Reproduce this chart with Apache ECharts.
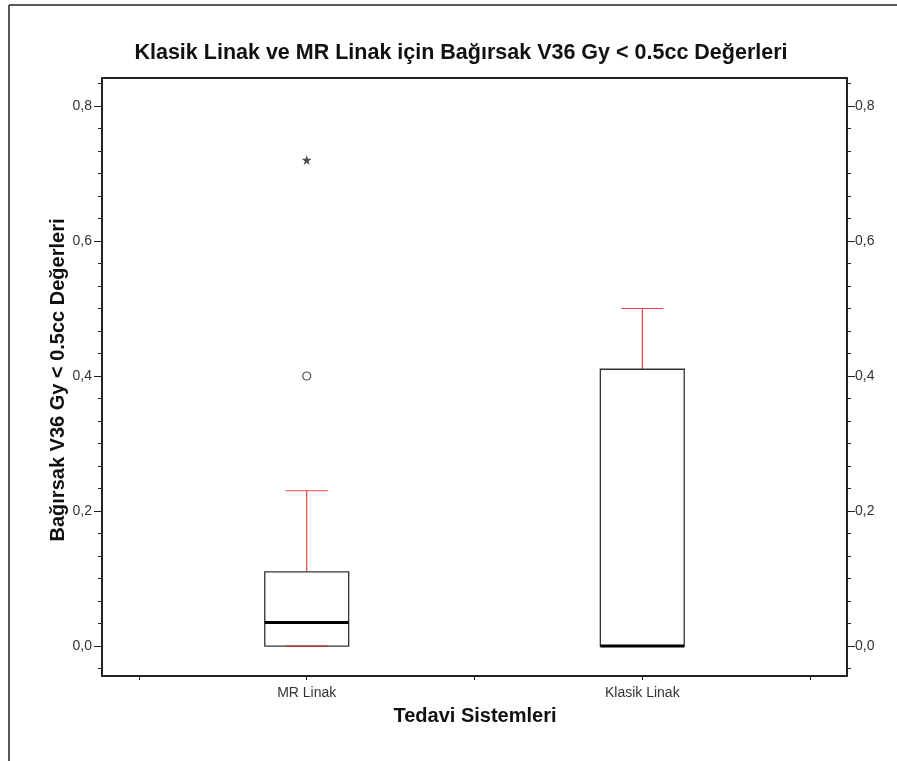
<!DOCTYPE html>
<html>
<head>
<meta charset="utf-8">
<script src="https://cdn.jsdelivr.net/npm/echarts@6/dist/echarts.min.js"></script>
<style>
  html, body { margin: 0; padding: 0; background: #fff; }
  #chart { width: 897px; height: 761px; }
</style>
</head>
<body>
<div id="chart"></div>
<script>
// Box plot: Bağırsak V36 Gy < 0.5cc by treatment system
const categories = ['MR Linak', 'Klasik Linak'];
const categoryPos = [1, 2];
const lowerWhisker = [0, 0];
const q1Values = [0, 0];
const medianValues = [0.035, 0];
const q3Values = [0.11, 0.41];
const upperWhisker = [0.23, 0.50];
// mild outliers (circle) and extreme values (star): [category index, value]
const outlierPoints = [[0, 0.40]];
const extremePoints = [[0, 0.72]];

const yMajorTicks = [0, 0.2, 0.4, 0.6, 0.8];
const yMinorTicks = [-1/30, 1/30, 2/30, 3/30, 4/30, 5/30, 7/30, 8/30, 9/30, 10/30, 11/30,
  13/30, 14/30, 15/30, 16/30, 17/30, 19/30, 20/30, 21/30, 22/30, 23/30, 25/30];
const xTicks = [0.5, 1, 1.5, 2, 2.5];

const Y_MIN = -0.0444, Y_MAX = 0.8415;
const INK = '#222';
const WHISKER = '#ef4048';

const boxData = categories.map((c, i) => [categoryPos[i], lowerWhisker[i], q1Values[i], medianValues[i], q3Values[i], upperWhisker[i]]);

function renderBox(params, api) {
  const x = api.value(0);
  const lw = api.coord([x, api.value(1)]);
  const q1 = api.coord([x, api.value(2)]);
  const md = api.coord([x, api.value(3)]);
  const q3 = api.coord([x, api.value(4)]);
  const uw = api.coord([x, api.value(5)]);
  const halfBox = api.size([0.25, 0])[0] / 2;
  const halfCap = halfBox / 2;
  const cx = q1[0];
  return {
    type: 'group',
    children: [
      { type: 'line', shape: { x1: cx, y1: q3[1], x2: cx, y2: uw[1] }, style: { stroke: WHISKER, lineWidth: 1.2 } },
      { type: 'line', shape: { x1: cx - halfCap, y1: uw[1], x2: cx + halfCap, y2: uw[1] }, style: { stroke: WHISKER, lineWidth: 1.2 } },
      { type: 'line', shape: { x1: cx, y1: q1[1], x2: cx, y2: lw[1] }, style: { stroke: WHISKER, lineWidth: 1.2 } },
      { type: 'rect', shape: { x: cx - halfBox, y: q3[1], width: halfBox * 2, height: q1[1] - q3[1] },
        style: { fill: '#fff', stroke: '#333', lineWidth: 1.3 } },
      { type: 'line', shape: { x1: cx - halfCap, y1: lw[1], x2: cx + halfCap, y2: lw[1] }, style: { stroke: '#c0392b', lineWidth: 1.2 } },
      { type: 'line', shape: { x1: cx - halfBox, y1: md[1], x2: cx + halfBox, y2: md[1] }, style: { stroke: '#000', lineWidth: 3 } }
    ]
  };
}

const starPath = 'path://M50,0 L61,35 L98,35 L68,57 L79,91 L50,70 L21,91 L32,57 L2,35 L39,35 Z';
const fmt = v => (Math.round(v * 10) / 10).toFixed(1).replace('.', ',');
const tickLabelStyle = { fontFamily: 'Liberation Sans, Arial, sans-serif', fontSize: 14, color: '#333' };
const FONT = '"Liberation Sans", Arial, sans-serif';

const chart = echarts.init(document.getElementById('chart'), null, { renderer: 'canvas' });
chart.setOption({
  animation: false,
  backgroundColor: '#fff',
  grid: { left: 102, right: 50, top: 78, bottom: 85, containLabel: false },
  xAxis: [
    {
      type: 'value', position: 'bottom', min: 0.39, max: 2.61,
      axisLine: { show: true, onZero: false, lineStyle: { color: INK, width: 2 } },
      axisTick: { show: true, customValues: xTicks, length: 4, inside: false, lineStyle: { color: INK, width: 1 } },
      axisLabel: { show: true, customValues: categoryPos, margin: 10, ...tickLabelStyle,
        formatter: v => categories[categoryPos.indexOf(Math.round(v))] || '' },
      splitLine: { show: false }
    },
    {
      type: 'value', position: 'top', min: 0.39, max: 2.61,
      axisLine: { show: true, onZero: false, lineStyle: { color: INK, width: 2 } },
      axisTick: { show: false }, axisLabel: { show: false }, splitLine: { show: false }
    }
  ],
  yAxis: [
    {
      type: 'value', position: 'left', min: Y_MIN, max: Y_MAX,
      axisLine: { show: true, onZero: false, lineStyle: { color: INK, width: 2 } },
      axisTick: { show: true, customValues: yMajorTicks, length: 8, lineStyle: { color: INK, width: 1 } },
      axisLabel: { show: true, customValues: yMajorTicks, margin: 10, ...tickLabelStyle, formatter: fmt },
      splitLine: { show: false }
    },
    {
      type: 'value', position: 'left', min: Y_MIN, max: Y_MAX,
      axisLine: { show: false, onZero: false },
      axisTick: { show: true, customValues: yMinorTicks, length: 4, lineStyle: { color: INK, width: 1 } },
      axisLabel: { show: false }, splitLine: { show: false }
    },
    {
      type: 'value', position: 'right', min: Y_MIN, max: Y_MAX,
      axisLine: { show: true, onZero: false, lineStyle: { color: INK, width: 2 } },
      axisTick: { show: true, customValues: yMajorTicks, length: 8, lineStyle: { color: INK, width: 1 } },
      axisLabel: { show: true, customValues: yMajorTicks, margin: 8, ...tickLabelStyle, formatter: fmt },
      splitLine: { show: false }
    },
    {
      type: 'value', position: 'right', min: Y_MIN, max: Y_MAX,
      axisLine: { show: false, onZero: false },
      axisTick: { show: true, customValues: yMinorTicks, length: 4, lineStyle: { color: INK, width: 1 } },
      axisLabel: { show: false }, splitLine: { show: false }
    }
  ],
  series: [
    {
      type: 'custom', xAxisIndex: 0, yAxisIndex: 0, clip: false,
      renderItem: renderBox, data: boxData, z: 2
    },
    {
      type: 'scatter', xAxisIndex: 0, yAxisIndex: 0, z: 3,
      symbol: 'circle', symbolSize: 8,
      itemStyle: { color: '#fff', borderColor: '#222', borderWidth: 1.2 },
      data: outlierPoints.map(p => [categoryPos[p[0]], p[1]])
    },
    {
      type: 'scatter', xAxisIndex: 0, yAxisIndex: 0, z: 3,
      symbol: starPath, symbolSize: 10,
      itemStyle: { color: '#222' },
      data: extremePoints.map(p => [categoryPos[p[0]], p[1]])
    }
  ],
  graphic: [
    { type: 'line', shape: { x1: 9, y1: 5, x2: 897, y2: 5 }, style: { stroke: INK, lineWidth: 1.5 } },
    { type: 'line', shape: { x1: 9, y1: 5, x2: 9, y2: 761 }, style: { stroke: INK, lineWidth: 1.5 } },
    {
      type: 'text', x: 461, y: 53,
      style: { text: 'Klasik Linak ve MR Linak için Bağırsak V36 Gy < 0.5cc Değerleri',
        font: 'bold 21.5px ' + FONT, fill: '#111', align: 'center', verticalAlign: 'middle' }
    },
    {
      type: 'text', x: 475, y: 716,
      style: { text: 'Tedavi Sistemleri',
        font: 'bold 20px ' + FONT, fill: '#111', align: 'center', verticalAlign: 'middle' }
    },
    {
      type: 'text', x: 58, y: 380, rotation: Math.PI / 2,
      style: { text: 'Bağırsak V36 Gy < 0.5cc Değerleri',
        font: 'bold 20px ' + FONT, fill: '#111', align: 'center', verticalAlign: 'middle' }
    }
  ]
});
</script>
</body>
</html>
